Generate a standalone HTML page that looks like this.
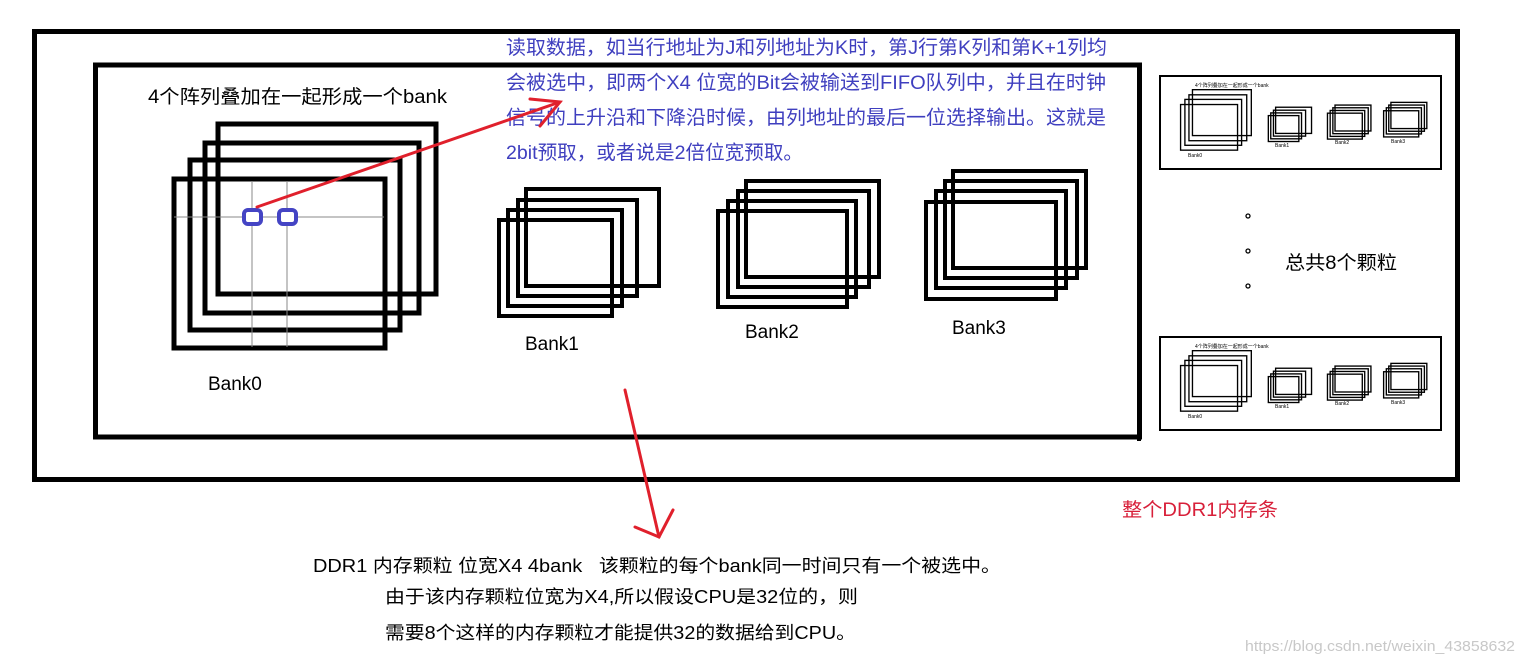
<!DOCTYPE html>
<html><head><meta charset="utf-8"><style>
html,body{margin:0;padding:0;background:#fff;}
svg{display:block;}
text{font-family:"Liberation Sans","Noto Sans CJK SC",sans-serif;}
</style></head><body>
<svg width="1526" height="665" viewBox="0 0 1526 665" xmlns="http://www.w3.org/2000/svg">
<rect x="0" y="0" width="1526" height="665" fill="#fff"/>
<rect x="34.5" y="31.5" width="1423" height="448" fill="none" stroke="#000" stroke-width="5"/>
<rect x="95.5" y="65" width="1044" height="372" fill="none" stroke="#000" stroke-width="5"/>
<rect x="1137" y="438" width="4" height="3" fill="#000"/>

<text x="148" y="103" font-size="19" fill="#000" textLength="299" lengthAdjust="spacingAndGlyphs">4个阵列叠加在一起形成一个bank</text>

<g fill="none" stroke="#000" stroke-width="5">
<rect x="218" y="124" width="218" height="170"/>
<rect x="205" y="143" width="214" height="170"/>
<rect x="190" y="160" width="210" height="170"/>
<rect x="174" y="179" width="211" height="169"/>
</g>
<g stroke="#888" stroke-width="1">
<line x1="174" y1="217" x2="384" y2="217"/>
<line x1="252" y1="181" x2="252" y2="347"/>
<line x1="287" y1="181" x2="287" y2="347"/>
</g>
<g fill="#fff" stroke="#4444c4" stroke-width="4">
<rect x="244" y="210" width="17" height="14" rx="4"/>
<rect x="279" y="210" width="17" height="14" rx="4"/>
</g>
<text x="208" y="390" font-size="19" fill="#000">Bank0</text>

<g fill="none" stroke="#000" stroke-width="4">
<rect x="526" y="189" width="133" height="97"/>
<rect x="518" y="200" width="119" height="96"/>
<rect x="508" y="210" width="114" height="96"/>
<rect x="499" y="220" width="113" height="96"/>
</g>
<text x="525" y="350" font-size="19" fill="#000">Bank1</text>

<g fill="none" stroke="#000" stroke-width="4">
<rect x="746" y="181" width="133" height="96"/>
<rect x="738" y="191" width="131" height="96"/>
<rect x="728" y="201" width="128" height="96"/>
<rect x="718" y="211" width="129" height="96"/>
</g>
<text x="745" y="338" font-size="19" fill="#000">Bank2</text>

<g fill="none" stroke="#000" stroke-width="4">
<rect x="953" y="171" width="133" height="97"/>
<rect x="945" y="181" width="132" height="97"/>
<rect x="936" y="191" width="130" height="97"/>
<rect x="926" y="202" width="130" height="97"/>
</g>
<text x="952" y="334" font-size="19" fill="#000">Bank3</text>

<g font-size="19.5" fill="#3f3fbf" lengthAdjust="spacingAndGlyphs">
<text x="506" y="54" textLength="601" lengthAdjust="spacingAndGlyphs">读取数据，如当行地址为J和列地址为K时，第J行第K列和第K+1列均</text>
<text x="506" y="89" textLength="600" lengthAdjust="spacingAndGlyphs">会被选中，即两个X4 位宽的Bit会被输送到FIFO队列中，并且在时钟</text>
<text x="506" y="124" textLength="600" lengthAdjust="spacingAndGlyphs">信号的上升沿和下降沿时候，由列地址的最后一位选择输出。这就是</text>
<text x="506" y="159" textLength="297" lengthAdjust="spacingAndGlyphs">2bit预取，或者说是2倍位宽预取。</text>
</g>

<g stroke="#e0202c" stroke-width="3" stroke-linecap="round" fill="none">
<line x1="257" y1="207" x2="560" y2="102"/>
<polyline points="530,99 560,102 540,126"/>
<line x1="625" y1="390" x2="659" y2="537"/>
<polyline points="635,527 659,537 673,510"/>
</g>

<rect x="1160" y="76" width="281" height="93" fill="none" stroke="#000" stroke-width="2"/>
<rect x="1160" y="337" width="281" height="93" fill="none" stroke="#000" stroke-width="2"/>
<g transform="translate(1133.6,56.2) scale(0.27)" fill="none" stroke="#000" stroke-width="5">
<rect x="218" y="124" width="218" height="170"/><rect x="205" y="143" width="214" height="170"/><rect x="190" y="160" width="210" height="170"/><rect x="174" y="179" width="211" height="169"/>
<rect x="526" y="189" width="133" height="97"/><rect x="518" y="200" width="119" height="96"/><rect x="508" y="210" width="114" height="96"/><rect x="499" y="220" width="113" height="96"/>
<rect x="746" y="181" width="133" height="96"/><rect x="738" y="191" width="131" height="96"/><rect x="728" y="201" width="128" height="96"/><rect x="718" y="211" width="129" height="96"/>
<rect x="953" y="171" width="133" height="97"/><rect x="945" y="181" width="132" height="97"/><rect x="936" y="191" width="130" height="97"/><rect x="926" y="202" width="130" height="97"/>
</g>
<g transform="translate(1133.6,317.2) scale(0.27)" fill="none" stroke="#000" stroke-width="5">
<rect x="218" y="124" width="218" height="170"/><rect x="205" y="143" width="214" height="170"/><rect x="190" y="160" width="210" height="170"/><rect x="174" y="179" width="211" height="169"/>
<rect x="526" y="189" width="133" height="97"/><rect x="518" y="200" width="119" height="96"/><rect x="508" y="210" width="114" height="96"/><rect x="499" y="220" width="113" height="96"/>
<rect x="746" y="181" width="133" height="96"/><rect x="738" y="191" width="131" height="96"/><rect x="728" y="201" width="128" height="96"/><rect x="718" y="211" width="129" height="96"/>
<rect x="953" y="171" width="133" height="97"/><rect x="945" y="181" width="132" height="97"/><rect x="936" y="191" width="130" height="97"/><rect x="926" y="202" width="130" height="97"/>
</g>
<g font-size="5" fill="#000">
<text x="1195" y="87">4个阵列叠加在一起形成一个bank</text>
<text x="1188" y="157">Bank0</text><text x="1275" y="147">Bank1</text><text x="1335" y="144">Bank2</text><text x="1391" y="143">Bank3</text>
<text x="1195" y="348">4个阵列叠加在一起形成一个bank</text>
<text x="1188" y="418">Bank0</text><text x="1275" y="408">Bank1</text><text x="1335" y="405">Bank2</text><text x="1391" y="404">Bank3</text>
</g>

<g fill="none" stroke="#000" stroke-width="1.3">
<circle cx="1248" cy="216" r="2"/><circle cx="1248" cy="251" r="2"/><circle cx="1248" cy="286" r="2"/>
</g>
<text x="1285" y="269" font-size="19" fill="#000" textLength="112" lengthAdjust="spacingAndGlyphs">总共8个颗粒</text>

<text x="1122" y="516" font-size="19" fill="#d8203a" textLength="156" lengthAdjust="spacingAndGlyphs">整个DDR1内存条</text>

<g font-size="18" fill="#000">
<text x="313" y="572" textLength="688" lengthAdjust="spacingAndGlyphs" xml:space="preserve">DDR1 内存颗粒 位宽X4 4bank   该颗粒的每个bank同一时间只有一个被选中。</text>
<text x="385" y="603" textLength="473" lengthAdjust="spacingAndGlyphs">由于该内存颗粒位宽为X4,所以假设CPU是32位的，则</text>
<text x="385" y="639" textLength="471" lengthAdjust="spacingAndGlyphs">需要8个这样的内存颗粒才能提供32的数据给到CPU。</text>
</g>
<text x="1245" y="651" font-size="15" fill="#c8c8c8" textLength="270" lengthAdjust="spacingAndGlyphs">https://blog.csdn.net/weixin_43858632</text>
</svg>
</body></html>
